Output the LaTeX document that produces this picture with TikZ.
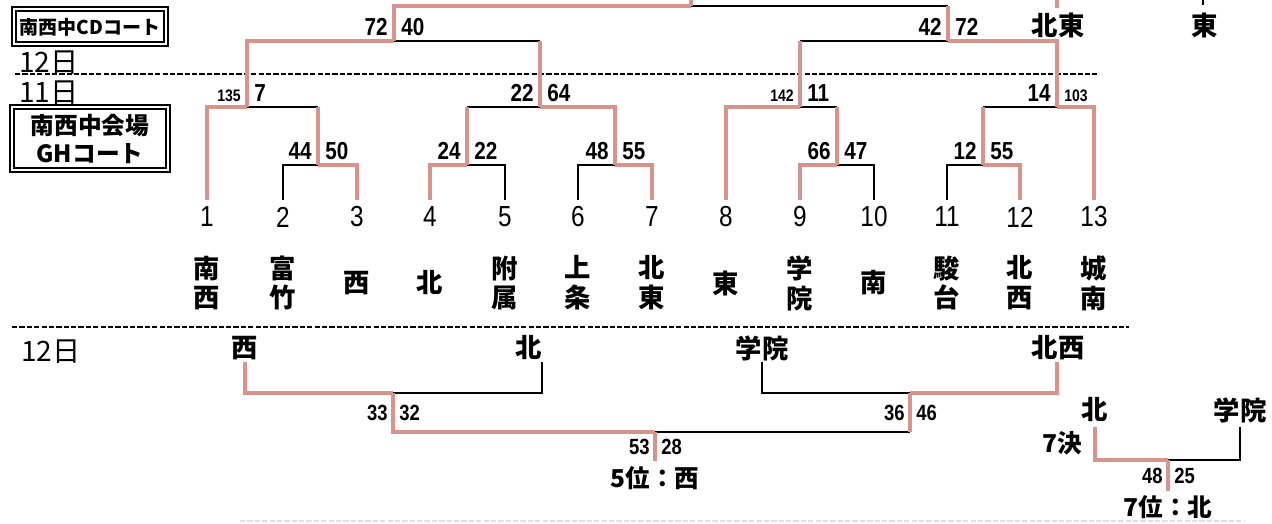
\documentclass[tikz,border=0pt]{standalone}
\usepackage{fontspec}
\setmainfont{Noto Sans CJK JP}
\newfontfamily\numfont{Liberation Sans}[FakeStretch=0.84]
\usetikzlibrary{positioning}
\definecolor{winred}{RGB}{214,148,138}
\tikzset{
  win/.style={winred, line width=2.6pt},
  lose/.style={black, line width=1.5pt},
  num/.style={font=\numfont\fontsize{16.5}{18}\selectfont, inner sep=0pt},
  score/.style={font=\numfont\bfseries\fontsize{14}{15}\selectfont, inner sep=0pt},
  small/.style={font=\numfont\bfseries\fontsize{9.5}{10}\selectfont, inner sep=0pt},
  lowscore/.style={font=\numfont\bfseries\fontsize{12.5}{13}\selectfont, inner sep=0pt},
  team/.style={font=\bfseries\fontsize{15}{17}\selectfont, align=center, inner sep=0pt},
  day/.style={font=\fontsize{16}{18}\selectfont, inner sep=0pt},
  dayline/.style={line width=1.2pt, dash pattern=on 3pt off 1.2pt},
  boxtext/.style={font=\bfseries\fontsize{10.8}{15}\selectfont, align=center, inner sep=0pt},
}

\begin{document}
\begin{tikzpicture}[x=0.02cm, y=-0.02cm]
        \useasboundingbox (0,0) rectangle (1272,524);
        % courts and days
        \draw [line width=1.5pt] (12,7) rectangle (168,46);
        \draw [line width=0.6pt] (16,11) rectangle (164,42);
        \node [boxtext] (court1) at (90,27) {南西中CDコート};
        \draw [line width=1.5pt] (10,105) rectangle (170,172);
        \draw [line width=0.6pt] (14,109) rectangle (166,168);
        \node [boxtext, font=\bfseries\fontsize{13.5}{16}\selectfont] (court2) at (90,139) {南西中会場\\GHコート};
        \node [day] (day12a) at (49,63) {12日};
        \node [day] (day11) at (49,93) {11日};
        \node [day] (day12b) at (51,352) {12日};
        \draw [dayline] (15,74) -- (1097,74);
        \draw [dayline] (12,327) -- (1129,327);
        \draw [dayline, gray!25] (240,521) -- (1245,521);
        % draw
        \foreach \i/\x in {1/207, 2/283, 3/357, 4/430, 5/505, 6/578, 7/652, 8/726, 9/800, 10/874, 11/947, 12/1020, 13/1094}{
                \coordinate (l\i) at (\x,200);
                \node [num] (n\i) at (\x,217) {\i};
            }
        \foreach \i/\x/\t in {1/207/南\\西, 2/283/富\\竹, 3/357/西, 4/430/北, 5/505/附\\属, 6/578/上\\条, 7/652/北\\東,
                8/726/東, 9/800/学\\院, 10/874/南, 11/947/駿\\台, 12/1020/北\\西, 13/1094/城\\南}{
                \node [team] (t\i) at (\x,283) {\t};
            }
        \coordinate (m23) at (318,165);
        \coordinate (m45) at (467,165);
        \coordinate (m67) at (615,165);
        \coordinate (m910) at (837,165);
        \coordinate (m1112) at (983,165);
        \coordinate (qf1) at (247,107);
        \coordinate (qf2) at (540,107);
        \coordinate (qf3) at (800,107);
        \coordinate (qf4) at (1057,107);
        \coordinate (sf1) at (394,41);
        \coordinate (sf2) at (948,41);
        \coordinate (fin) at (691,6);
        \coordinate (fintop) at (691,-4);
        % lower games
        \node [team] (p1) at (245,348) {西};
        \node [team] (p2) at (529,348) {北};
        \node [team] (p3) at (762,348) {学院};
        \node [team] (p4) at (1058,348) {北西};
        \node [team] (p5) at (1095,410) {北};
        \node [team] (p6) at (1240,410) {学院};
        \coordinate (q1) at (245,362);
        \coordinate (q2) at (542,362);
        \coordinate (q3) at (762,362);
        \coordinate (q4) at (1057,362);
        \coordinate (q5) at (1095,427);
        \coordinate (q6) at (1240,427);
        \coordinate (cs1) at (393,393);
        \coordinate (cs2) at (910,393);
        \coordinate (c5) at (655,432);
        \coordinate (c5end) at (655,461);
        \coordinate (c7) at (1168,460);
        \coordinate (c7end) at (1168,491);
        % lost games
        \foreach \c/\j in {l2/m23, l5/m45, l6/m67, l10/m910, l11/m1112, q2/cs1, q3/cs2, q6/c7}{
                \draw [lose] (\c) |- (\j);
            }
        \foreach \c/\j in {m23/qf1, m45/qf2, m910/qf3, m1112/qf4, qf2/sf1, qf3/sf2, sf2/fin, cs2/c5}{
                \draw [lose] (\c |- \j) -- (\j);
            }
        % won games
        \foreach \c/\j in {m23/qf1, m45/qf2, m910/qf3, m1112/qf4, qf2/sf1, qf3/sf2, sf2/fin, cs2/c5}{
                \draw [win] (\c) -- (\c |- \j);
            }
        \foreach \c/\j in {l1/qf1, l3/m23, l4/m45, l7/m67, l8/qf3, l9/m910, l12/m1112, l13/qf4,
                m67/qf2, qf1/sf1, qf4/sf2, sf1/fin, q1/cs1, q4/cs2, cs1/c5, q5/c7}{
                \draw [win] (\c) |- (\j);
            }
        \draw [win] (fin) -- (fintop);
        \draw [win] (c5) -- (c5end);
        \draw [win] (c7) -- (c7end);
        % scores
        \foreach \x/\y/\l/\r/\sl/\sr in {318/165/44/50/score/score, 467/165/24/22/score/score, 615/165/48/55/score/score,
                837/165/66/47/score/score, 983/165/12/55/score/score, 247/107/135/7/small/score, 540/107/22/64/score/score,
                800/107/142/11/small/score, 1057/107/14/103/score/small, 394/41/72/40/score/score, 948/41/42/72/score/score}{
                \node [\sl, anchor=south east] (sl\x) at (\x-6,\y-5) {\l};
                \node [\sr, anchor=south west] (sr\x) at (\x+7,\y-5) {\r};
            }
        \foreach \x/\y/\l/\r in {393/413/33/32, 910/413/36/46, 655/447/53/28, 1168/476/48/25}{
                \node [lowscore, anchor=east] (bl\x) at (\x-5,\y) {\l};
                \node [lowscore, anchor=west] (br\x) at (\x+6,\y) {\r};
            }
        \node [team, font=\bfseries\fontsize{14}{16}\selectfont] (place5) at (655,478) {5位：西};
        \node [team, font=\bfseries\fontsize{14}{16}\selectfont] (place7) at (1168,507) {7位：北};
        \node [team, font=\bfseries\fontsize{14}{16}\selectfont] (g7) at (1062,443) {7決};
        % third place, cut off at the top
        \node [team] (top1) at (1058,25) {北東};
        \node [team] (top2) at (1205,25) {東};
        \coordinate (top1s) at (1057,8);
        \coordinate (top2s) at (1203,5);
        \draw [win] (top1s) -- (top1s |- 0,-4);
        \draw [lose] (top2s) -- (top2s |- 0,-4);
    \end{tikzpicture}
\end{document}
